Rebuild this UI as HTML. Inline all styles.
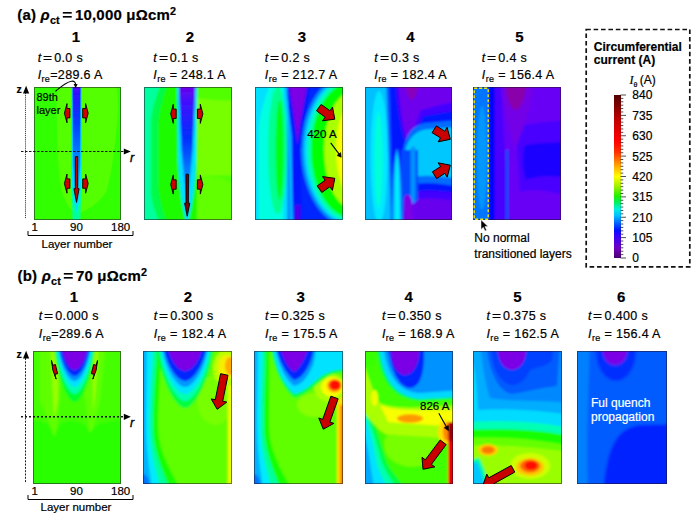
<!DOCTYPE html>
<html><head><meta charset="utf-8"><style>
html,body{margin:0;padding:0;background:#fff;}
body{width:700px;height:521px;position:relative;overflow:hidden;font-family:"Liberation Sans", sans-serif;}
.t{position:absolute;white-space:nowrap;line-height:1;-webkit-text-stroke:0.2px currentColor;}
.c{text-align:center;}
.pl{position:absolute;}
sub{font-size:0.72em;vertical-align:-0.36em;line-height:0;}
.eq{display:inline-block;transform:scaleX(1.25);margin:0 2.5px;}
.sb{vertical-align:-0.4em;}
.eqb{display:inline-block;transform:scaleX(1.15);margin:0 3px;}
sup{font-size:0.72em;vertical-align:0.45em;line-height:0;}
</style></head><body>
<svg class="pl" style="left:34px;top:87px" width="87" height="133" viewBox="34 87 87 133"><defs><filter id="fa1" x="14" y="67" width="127" height="173" filterUnits="userSpaceOnUse"><feGaussianBlur stdDeviation="0.7"/></filter></defs><g filter="url(#fa1)"><rect x="24" y="77" width="107" height="153" fill="#32ff00"/><path d="M57,82 C56,120 58,180 62,192 C66,205 72,212 77,214 C83,212 98,205 106,192 C112,175 116,140 118,110 C118,95 117,90 116,82 Z" fill="#53ff00"/><defs><linearGradient id="ga1" x1="0" y1="0" x2="0" y2="1"><stop offset="0" stop-color="#6000ff"/><stop offset="0.08" stop-color="#3010ff"/><stop offset="0.35" stop-color="#0040ff"/><stop offset="0.55" stop-color="#0070ff"/><stop offset="0.8" stop-color="#00b0ff"/><stop offset="1" stop-color="#00d0ff"/></linearGradient></defs><path d="M71.3,85 L81.8,85 L81.5,185 C81,200 80.5,212 80.5,222 L72.5,222 C72.5,212 72,200 71.6,185 Z" fill="#00ff9d"/><path d="M71.3,85 L81.8,85 L81.5,175 C81,190 79,205 76.6,212 C74,205 72,190 71.6,175 Z" fill="#00e0ff"/><path d="M72.6,85 L80.5,85 L80.2,165 C79.5,180 78,192 76.6,198 C75,192 73.6,180 72.9,165 Z" fill="url(#ga1)"/></g><rect x="34.5" y="87.5" width="86" height="132" fill="none" stroke="#201028" stroke-width="1" stroke-opacity="0.55"/><path d="M67.0,108.5 L67.0,103.6 L64.4,113.2 L67.0,122.8 L67.0,117.9 L69.9,117.9 L69.9,108.5 Z" fill="#d00000" stroke="#000" stroke-width="0.9" stroke-linejoin="miter"/><path d="M85.6,108.5 L85.6,103.6 L88.2,113.2 L85.6,122.8 L85.6,117.9 L82.7,117.9 L82.7,108.5 Z" fill="#d00000" stroke="#000" stroke-width="0.9" stroke-linejoin="miter"/><path d="M67.0,178.9 L67.0,174.0 L64.4,183.6 L67.0,193.2 L67.0,188.3 L69.9,188.3 L69.9,178.9 Z" fill="#d00000" stroke="#000" stroke-width="0.9" stroke-linejoin="miter"/><path d="M85.6,178.9 L85.6,174.0 L88.2,183.6 L85.6,193.2 L85.6,188.3 L82.7,188.3 L82.7,178.9 Z" fill="#d00000" stroke="#000" stroke-width="0.9" stroke-linejoin="miter"/><path d="M75.3,156.6 L77.7,156.6 L77.7,188.7 L79.1,188.7 L76.5,202.5 L73.9,188.7 L75.3,188.7 Z" fill="#c00000" stroke="#000" stroke-width="0.9" stroke-linejoin="miter"/></svg><svg class="pl" style="left:144px;top:87px" width="88" height="133" viewBox="144 87 88 133"><defs><filter id="fa2" x="124" y="67" width="128" height="173" filterUnits="userSpaceOnUse"><feGaussianBlur stdDeviation="0.8"/></filter></defs><g filter="url(#fa2)"><rect x="134" y="77" width="108" height="153" fill="#51ff00"/><path d="M196,98 C210,100 225,101 236,100 L236,176 C225,175 210,175 196,176 Z" fill="#77ff00"/><path d="M196,176 C215,175 228,180 236,186 L236,230 L196,230 Z" fill="#62ff00"/><rect x="134" y="77" width="63" height="153" fill="#1efb00"/><path d="M134,77 L164,77 C158,92 152,105 151,125 L151,190 C152,205 156,214 163,230 L134,230 Z" fill="#00ff9f"/><path d="M151,125 C151,110 157,96 165,77 L170,77 C163,96 158,112 158,130 L158,185 C159,200 163,214 170,230 L163,230 C156,214 152,205 151,190 Z" fill="#00fb48"/><defs><linearGradient id="ga2" x1="0" y1="0" x2="0" y2="1"><stop offset="0" stop-color="#7000e8"/><stop offset="0.15" stop-color="#4010ff"/><stop offset="0.45" stop-color="#0030ff"/><stop offset="0.7" stop-color="#0078ff"/><stop offset="1" stop-color="#00c0ff"/></linearGradient></defs><path d="M177,85 L197,85 L196,160 C195,190 191,210 188,222 L186,222 C183,210 179,190 178,160 Z" fill="#00e0ff"/><path d="M178.8,85 L195.4,85 L192.5,150 C190.5,175 188.5,195 187,205 C185.5,195 183.5,175 181.5,150 Z" fill="url(#ga2)"/></g><rect x="144.5" y="87.5" width="87" height="132" fill="none" stroke="#201028" stroke-width="1" stroke-opacity="0.55"/><path d="M173.3,109.1 L173.3,104.2 L170.7,113.8 L173.3,123.4 L173.3,118.5 L176.2,118.5 L176.2,109.1 Z" fill="#d00000" stroke="#000" stroke-width="0.9" stroke-linejoin="miter"/><path d="M200.3,109.1 L200.3,104.2 L202.9,113.8 L200.3,123.4 L200.3,118.5 L197.4,118.5 L197.4,109.1 Z" fill="#d00000" stroke="#000" stroke-width="0.9" stroke-linejoin="miter"/><path d="M173.3,179.8 L173.3,174.9 L170.7,184.5 L173.3,194.1 L173.3,189.2 L176.2,189.2 L176.2,179.8 Z" fill="#d00000" stroke="#000" stroke-width="0.9" stroke-linejoin="miter"/><path d="M200.3,179.8 L200.3,174.9 L202.9,184.5 L200.3,194.1 L200.3,189.2 L197.4,189.2 L197.4,179.8 Z" fill="#d00000" stroke="#000" stroke-width="0.9" stroke-linejoin="miter"/><path d="M186.0,174.2 L188.4,174.2 L188.4,203.2 L189.8,203.2 L187.2,216.3 L184.6,203.2 L186.0,203.2 Z" fill="#800000" stroke="#000" stroke-width="0.9" stroke-linejoin="miter"/></svg><svg class="pl" style="left:255px;top:87px" width="88" height="133" viewBox="255 87 88 133"><defs><filter id="fa3" x="235" y="67" width="128" height="173" filterUnits="userSpaceOnUse"><feGaussianBlur stdDeviation="1.3"/></filter></defs><g filter="url(#fa3)"><rect x="245" y="77" width="108" height="153" fill="#00ffe0"/><path d="M245,77 L273,77 C266,95 260,110 258.5,130 L258.5,230 L245,230 Z" fill="#00e0ff"/><rect x="283" y="77" width="12" height="153" fill="#00e0ff"/><rect x="287" y="77" width="8" height="153" fill="#0090ff"/><ellipse cx="277.5" cy="150" rx="9.5" ry="64" fill="#00ff90"/><ellipse cx="279.5" cy="150" rx="4" ry="50" fill="#00ff12"/><rect x="292" y="77" width="70" height="153" fill="#0027ff"/><ellipse cx="352" cy="150" rx="51" ry="78" fill="#0089ff"/><ellipse cx="352" cy="150" rx="48" ry="75" fill="#00d8ff"/><ellipse cx="352" cy="150" rx="45" ry="72" fill="#00ffb1"/><ellipse cx="352" cy="150" rx="41" ry="68" fill="#00ff00"/><ellipse cx="352" cy="150" rx="28" ry="58" fill="#aaff00"/><ellipse cx="352" cy="150" rx="16" ry="46" fill="#f7ff00"/><path d="M285,82 L311,82 C306,110 302,130 301,150 L301.5,225 L293.5,225 L293.5,150 C292,130 288,110 285,82 Z" fill="#0014ff"/><path d="M288,82 L308,82 C304,105 300,120 297.5,145 C295,120 292,105 288,82 Z" fill="#7b00e6"/><path d="M283.5,82 L286.5,82 C289,120 292,150 293,225 L291,225 C290,150 288,120 283.5,82 Z" fill="#00c4ff"/><rect x="295" y="205" width="5.5" height="20" fill="#4900ee"/></g><rect x="255.5" y="87.5" width="87" height="132" fill="none" stroke="#201028" stroke-width="1" stroke-opacity="0.55"/><path d="M316.5,110.8 L325.2,117.2 L322.5,120.8 L334.8,119.2 L332.5,107.0 L329.9,110.7 L321.1,104.4 Z" fill="#c80000" stroke="#000" stroke-width="1" stroke-linejoin="miter"/><path d="M321.8,192.5 L329.8,186.8 L332.4,190.4 L334.8,178.3 L322.5,176.6 L325.1,180.3 L317.2,185.9 Z" fill="#c80000" stroke="#000" stroke-width="1" stroke-linejoin="miter"/><path d="M330.7,142.8 L339.5,154.6" stroke="#000" stroke-width="1.1" fill="none"/><path d="M337,155.5 L341.2,157.2 L340.6,152.6 Z" fill="#000" stroke="#000" stroke-width="0.6"/></svg><svg class="pl" style="left:365px;top:87px" width="87" height="133" viewBox="365 87 87 133"><defs><filter id="fa4" x="345" y="67" width="127" height="173" filterUnits="userSpaceOnUse"><feGaussianBlur stdDeviation="1.2"/></filter></defs><g filter="url(#fa4)"><rect x="355" y="77" width="107" height="153" fill="#6e00ee"/><path d="M388,77 L398,77 C400,110 404,135 409,148 C413,135 416,120 421,110 L460,100 L460,230 L388,230 Z" fill="#4200ff"/><path d="M388,77 L395,77 C397,110 402,138 409,152 C414,140 418,125 424,116 L460,110 L460,230 L388,230 Z" fill="#0014ff"/><path d="M402,156 C405,134 412,126 425,123 L460,120 L460,187 C440,183 420,181 408,186 Z" fill="#006dff"/><path d="M405,152 C408,138 415,132 425,129.5 L460,127 L460,179 C440,176 420,174 411,178 Z" fill="#00c8ff"/><path d="M398,196 C420,188 440,190 460,194 L460,230 L398,230 Z" fill="#4200ff"/><path d="M398,203 C420,196 440,198 460,202 L460,230 L398,230 Z" fill="#6700ee"/><path d="M404,78 C406,95 410,100 412,100 C416,98 418,90 420,78 Z" fill="#8800bb"/><path d="M401,150 L418,150 L418,200 C414,205 410,200 408,195 L404,230 L398,230 Z" fill="#0049ff"/><path d="M410.5,150 C411,145 415,145 415.5,150 L415.5,200 C414,205 411,205 410.5,200 Z" fill="#0092ff"/><path d="M404,198 C406,192 410,194 412,200 L414,230 L403,230 Z" fill="#7b00e6"/><path d="M355,77 L389,77 C391,130 392,180 393,230 L355,230 Z" fill="#005bff"/><path d="M355,77 L386,77 C388,130 390,180 391,230 L355,230 Z" fill="#00c0ff"/><ellipse cx="379" cy="157" rx="8.5" ry="66" fill="#00e8ff"/><ellipse cx="378.5" cy="160" rx="4" ry="48" fill="#00ffd8"/><path d="M392,230 C392,190 393,160 397,148 C400,160 402,190 402,230 Z" fill="#00a4ff"/><path d="M394.5,230 C394.5,190 395,165 397.2,152 C399,165 399.8,190 399.8,230 Z" fill="#00edff"/></g><rect x="365.5" y="87.5" width="86" height="132" fill="none" stroke="#201028" stroke-width="1" stroke-opacity="0.55"/><path d="M432.1,132.7 L440.5,137.9 L438.2,141.8 L450.3,139.3 L447.1,127.3 L444.8,131.2 L436.3,125.9 Z" fill="#c80000" stroke="#000" stroke-width="1" stroke-linejoin="miter"/><path d="M436.6,178.6 L444.8,173.4 L447.2,177.2 L450.3,165.2 L438.1,162.8 L440.6,166.6 L432.4,171.8 Z" fill="#c80000" stroke="#000" stroke-width="1" stroke-linejoin="miter"/></svg><svg class="pl" style="left:473px;top:87px" width="88" height="133" viewBox="473 87 88 133"><defs><filter id="fa5" x="453" y="67" width="128" height="173" filterUnits="userSpaceOnUse"><feGaussianBlur stdDeviation="1.0"/></filter></defs><g filter="url(#fa5)"><rect x="463" y="77" width="108" height="153" fill="#6700f6"/><path d="M515,128 C525,124 540,122 570,120 L570,196 C545,190 530,188 520,192 Z" fill="#4900ff"/><path d="M524,146 C530,143 545,143 570,142 L570,178 C550,175 535,176 526,180 C522,170 522,155 524,146 Z" fill="#1c00ff"/><path d="M500,78 L535,78 C532,110 522,130 515,150 C510,130 503,110 500,78 Z" fill="#7300e6"/><path d="M505.5,78 L526.5,78 C526.5,96 521,109 515.5,110 C510,109 505.5,96 505.5,78 Z" fill="#8a00aa"/><path d="M494,77 L501,77 C503,130 506,170 510,230 L494,230 Z" fill="#4900ff"/><rect x="488" y="77" width="6.5" height="153" fill="#0000ff"/><rect x="463" y="77" width="25.5" height="153" fill="#0076ff"/><ellipse cx="482" cy="158" rx="5" ry="52" fill="#0097ff"/><rect x="505.7" y="150" width="2.8" height="75" fill="#0049ff"/></g><rect x="473.5" y="87.5" width="87" height="132" fill="none" stroke="#201028" stroke-width="1" stroke-opacity="0.55"/><rect x="474.2" y="88.2" width="14" height="131" fill="none" stroke="#f8e800" stroke-width="1.4" stroke-dasharray="3,2"/></svg><svg class="pl" style="left:33px;top:351px" width="88" height="133" viewBox="33 351 88 133"><defs><filter id="fb1" x="13" y="331" width="128" height="173" filterUnits="userSpaceOnUse"><feGaussianBlur stdDeviation="1.2"/></filter></defs><g filter="url(#fb1)"><rect x="23" y="341" width="108" height="153" fill="#2cff00"/><path d="M23,341 L131,341 L131,418 C120,420 105,422 98,424 L90,433 L84,424 C75,420 65,420 60,424 L54.5,437 L48,424 C40,420 30,420 23,420 Z" fill="#45ff00"/><path d="M40,341 L65,341 L58,420 C56,430 55,436 54.5,437 C53,430 48,420 40,400 Z" fill="#60ff00"/><path d="M84,341 L106,341 L100,400 C96,420 92,430 90,433 C89,425 86,410 84,390 Z" fill="#60ff00"/><path d="M50,341 L58,341 L58,400 C56,410 55,416 54,418 Z" fill="#99ff00"/><path d="M92,341 L99,341 C97,380 95,400 93,410 Z" fill="#99ff00"/><path d="M53.5,341 C55.18,373.9 67.15,402 74.5,402 C81.85,402 93.82,373.9 95.5,341 Z" fill="#00ff2a"/><path d="M55.0,341 C56.56,370.4 67.67,394 74.5,394 C81.33,394 92.44,370.4 94.0,341 Z" fill="#00ffb1"/><path d="M56.5,341 C57.94,367.2 68.20,387 74.5,387 C80.80,387 91.06,367.2 92.5,341 Z" fill="#00e2ff"/><path d="M57.7,341 C59.04,364.5 68.62,381 74.5,381 C80.38,381 89.96,364.5 91.3,341 Z" fill="#008eff"/><path d="M59.0,341 C60.24,362.2 69.08,376 74.5,376 C79.92,376 88.76,362.2 90.0,341 Z" fill="#0027ff"/><path d="M61.0,341 C62.08,359.6 69.78,370 74.5,370 C79.22,370 86.92,359.6 88.0,341 Z" fill="#7b00e6"/></g><rect x="33.5" y="351.5" width="87" height="132" fill="none" stroke="#201028" stroke-width="1" stroke-opacity="0.55"/><path d="M53.8,365.1 L53.8,360.2 L52.8,369.8 L53.8,379.4 L53.8,374.5 L56.6,374.5 L56.6,365.1 Z" fill="#d00000" stroke="#000" stroke-width="0.9" stroke-linejoin="miter" transform="rotate(-14 53.8 369.8)"/><path d="M95.2,365.1 L95.2,360.2 L96.2,369.8 L95.2,379.4 L95.2,374.5 L92.4,374.5 L92.4,365.1 Z" fill="#d00000" stroke="#000" stroke-width="0.9" stroke-linejoin="miter" transform="rotate(14 95.2 369.8)"/></svg><svg class="pl" style="left:143px;top:351px" width="89" height="133" viewBox="143 351 89 133"><defs><filter id="fb2" x="123" y="331" width="129" height="173" filterUnits="userSpaceOnUse"><feGaussianBlur stdDeviation="1.2"/></filter></defs><g filter="url(#fb2)"><rect x="133" y="341" width="109" height="153" fill="#5eff00"/><ellipse cx="215" cy="400" rx="18" ry="25" fill="#77ff00"/><path d="M133,341 L161.7,341 C160.22,376 158,396 158,426 C158,451 170.5,471 183,494 L133,494 Z" fill="#15ff00"/><path d="M133,341 L157.45,341 C155.67,376 153,396 153,426 C153,451 162.5,471 172,494 L133,494 Z" fill="#00ff9d"/><path d="M133,341 L153.2,341 C151.72,376 149.5,396 149.5,426 C149.5,451 155.75,471 162,494 L133,494 Z" fill="#00ebff"/><path d="M133,341 L147,341 C146.6,376 146,396 146,426 C146,451 149.5,471 153,494 L133,494 Z" fill="#00b1ff"/><ellipse cx="143" cy="484" rx="6" ry="10" fill="#0076ff"/><rect x="227.5" y="385" width="10" height="105" fill="#e5ff00"/><ellipse cx="226" cy="368" rx="13" ry="18" fill="#bbff00"/><ellipse cx="227" cy="367" rx="9" ry="12" fill="#f6ee00"/><ellipse cx="230" cy="366" rx="5" ry="9" fill="#ffaa00"/><path d="M156,341 C158.32,376.6 174.85,408 185,408 C195.15,408 211.68,376.6 214,341 Z" fill="#00ff40"/><path d="M158,341 C160.16,373.5 175.55,401 185,401 C194.45,401 209.84,373.5 212,341 Z" fill="#00ffb1"/><path d="M159.5,341 C161.54,370.4 176.07,394 185,394 C193.93,394 208.46,370.4 210.5,341 Z" fill="#00e2ff"/><path d="M161.5,341 C163.38,367.2 176.78,387 185,387 C193.22,387 206.62,367.2 208.5,341 Z" fill="#0097ff"/><path d="M163,341 C164.76,364.5 177.30,381 185,381 C192.70,381 205.24,364.5 207,341 Z" fill="#0027ff"/><path d="M167,341 C168.44,360.0 178.70,371 185,371 C191.30,371 201.56,360.0 203,341 Z" fill="#7b00e6"/></g><rect x="143.5" y="351.5" width="88" height="132" fill="none" stroke="#201028" stroke-width="1" stroke-opacity="0.55"/><path d="M220.6,373.7 L215.3,399.7 L211.2,398.9 L217.2,409.3 L226.8,402.1 L222.7,401.2 L228.0,375.3 Z" fill="#c80000" stroke="#000" stroke-width="1" stroke-linejoin="miter"/></svg><svg class="pl" style="left:254px;top:351px" width="89" height="133" viewBox="254 351 89 133"><defs><filter id="fb3" x="234" y="331" width="129" height="173" filterUnits="userSpaceOnUse"><feGaussianBlur stdDeviation="1.2"/></filter></defs><g filter="url(#fb3)"><rect x="244" y="341" width="109" height="153" fill="#5eff00"/><ellipse cx="315" cy="405" rx="18" ry="12" fill="#88ff00"/><path d="M244,341 L269.4,341 C269.24,376 269,396 269,426 C269,451 281.5,471 294,494 L244,494 Z" fill="#15ff00"/><path d="M244,341 L265.9,341 C265.14,376 264,396 264,426 C264,451 273.5,471 283,494 L244,494 Z" fill="#00ff9d"/><path d="M244,341 L262.4,341 C261.64000000000004,376 260.5,396 260.5,426 C260.5,451 266.75,471 273,494 L244,494 Z" fill="#00ebff"/><path d="M244,341 L258,341 C257.59999999999997,376 257,396 257,426 C257,451 260.5,471 264,494 L244,494 Z" fill="#00b1ff"/><ellipse cx="254" cy="484" rx="6" ry="10" fill="#0076ff"/><rect x="337" y="392" width="10" height="100" fill="#ffdd00"/><rect x="340" y="405" width="6" height="85" fill="#ff8800"/><ellipse cx="330" cy="388" rx="16" ry="14" fill="#aaff00"/><ellipse cx="332" cy="387" rx="11" ry="10" fill="#f7ff00"/><path d="M270,341 C272,365 280,385 294,398 C305,396 315,385 325,378 C332,374 338,372 352,372 L352,341 Z" fill="#00ff40"/><path d="M272,341 C274,365 282,383 294,394 C305,392 313,382 323,375 C332,371 338,369 352,369 L352,341 Z" fill="#00e2ff"/><path d="M274,341 C277,362 284,378 294,386 C303,384 308,376 313,365 C315,358 316,350 316,341 Z" fill="#0097ff"/><path d="M275,341 C278,360 286,374 294,380 C302,378 307,370 311,360 C313,354 314,348 314,341 Z" fill="#0027ff"/><path d="M279,341 C281,356 288,368 294,372 C300,368 306,358 310,341 Z" fill="#7b00e6"/><ellipse cx="334" cy="386" rx="9" ry="8" fill="#ffee00"/><ellipse cx="334.5" cy="385.5" rx="7" ry="6.3" fill="#ff8000"/><ellipse cx="335" cy="385" rx="5.5" ry="5" fill="#ff0800"/></g><rect x="254.5" y="351.5" width="88" height="132" fill="none" stroke="#201028" stroke-width="1" stroke-opacity="0.55"/><path d="M330.9,396.2 L322.7,419.4 L318.8,418.0 L323.3,429.2 L333.8,423.4 L329.9,422.0 L338.1,398.8 Z" fill="#c80000" stroke="#000" stroke-width="1" stroke-linejoin="miter"/></svg><svg class="pl" style="left:365px;top:351px" width="88" height="133" viewBox="365 351 88 133"><defs><filter id="fb4" x="345" y="331" width="128" height="173" filterUnits="userSpaceOnUse"><feGaussianBlur stdDeviation="1.3"/></filter></defs><g filter="url(#fb4)"><rect x="355" y="341" width="108" height="153" fill="#40ff00"/><path d="M355,396 C373,409 381,446 387,463 C393,475 401,481 409,494 L355,494 Z" fill="#00ff40"/><path d="M355,401 C371,413 377,446 382,463 C387,475 393,481 399,494 L355,494 Z" fill="#00ffb1"/><path d="M355,405 C369,417 373,446 377,465 C380,475 385,481 389,494 L355,494 Z" fill="#00e2ff"/><path d="M355,413 C366,431 369,456 371,469 L375,494 L355,494 Z" fill="#00a7ff"/><ellipse cx="412" cy="445" rx="28" ry="22" fill="#77ff00"/><path d="M362,360 C370,380 374,395 380,403 C395,410 420,407 460,405 L460,440 C430,436 405,436 385,434 C378,430 370,420 362,410 Z" fill="#aaff00"/><path d="M380,405 C395,412 420,410 460,410 L460,428 C430,424 405,424 388,422 Z" fill="#f7ff00"/><ellipse cx="374.5" cy="398" rx="3.5" ry="8" fill="#eeff00"/><ellipse cx="410" cy="418.5" rx="13" ry="4.2" fill="#ff9900"/><ellipse cx="445" cy="432" rx="7" ry="12" fill="#ffdd00"/><ellipse cx="447" cy="432" rx="4" ry="9" fill="#ff8800"/><rect x="448" y="422" width="10" height="70" fill="#ee0000"/><ellipse cx="451" cy="432" rx="2.5" ry="10" fill="#990000"/><path d="M376,341 C378,380 392,399 420,401 L460,399 L460,341 Z" fill="#00ff40"/><path d="M378.5,341 C381,378 394,397 420,399 L460,397 L460,341 Z" fill="#00d8ff"/><path d="M383,341 C386,375 398,392 420,393 L460,390 L460,341 Z" fill="#0092ff"/><path d="M387,341 C390,372 400,388 410,388 C420,387 423,375 424,360 L424,341 Z" fill="#0027ff"/><ellipse cx="405" cy="351" rx="14" ry="24" fill="#7b00e6"/><path d="M355,341 L377,341 C377,358 376,364 372,366 L355,368 Z" fill="#37ff00"/></g><rect x="365.5" y="351.5" width="87" height="132" fill="none" stroke="#201028" stroke-width="1" stroke-opacity="0.55"/><path d="M440.2,440.0 L425.3,459.8 L422.0,457.3 L423.0,469.3 L434.8,466.9 L431.4,464.4 L446.2,444.6 Z" fill="#c80000" stroke="#000" stroke-width="1" stroke-linejoin="miter"/><path d="M438.8,413.2 L446.8,427.6" stroke="#000" stroke-width="1.1" fill="none"/><path d="M444.3,427.8 L448.6,430.8 L448.3,425.6 Z" fill="#000" stroke="#000" stroke-width="0.6"/></svg><svg class="pl" style="left:473px;top:351px" width="89" height="133" viewBox="473 351 89 133"><defs><filter id="fb5" x="453" y="331" width="129" height="173" filterUnits="userSpaceOnUse"><feGaussianBlur stdDeviation="1.3"/></filter></defs><g filter="url(#fb5)"><rect x="463" y="341" width="109" height="153" fill="#99ff00"/><path d="M463,446 C490,444 520,446 570,452 L570,430 L463,430 Z" fill="#66ff00"/><path d="M463,341 L570,341 L570,446 C540,440 510,436 463,438 Z" fill="#15ff00"/><path d="M463,341 L570,341 L570,436 C540,430 510,428 463,430 Z" fill="#00ffb6"/><path d="M463,341 L570,341 L570,428 C540,422 510,420 463,422 Z" fill="#00dbff"/><path d="M463,341 L570,341 L570,415 C540,410 500,408 478,410 C476,380 476,360 463,341 Z" fill="#00adff"/><path d="M480,341 L570,341 L570,403 C540,400 510,402 490,398 C484,380 482,360 480,341 Z" fill="#0089ff"/><path d="M486,341 L560,341 L557,386 C540,388 525,392 512,394 C498,392 488,370 486,341 Z" fill="#005bff"/><path d="M490,341 C492,370 500,383 512,385 C522,385 528,375 530,370 C540,366 548,366 552,360 L554,341 Z" fill="#0040ff"/><ellipse cx="512" cy="351" rx="14" ry="19" fill="#7b00e6"/><ellipse cx="530" cy="466" rx="20" ry="13" fill="#ccff00"/><ellipse cx="488" cy="450" rx="10" ry="6" fill="#ffcc00"/><ellipse cx="488" cy="450" rx="6.5" ry="3.8" fill="#ff7700"/><ellipse cx="530" cy="467" rx="14" ry="9" fill="#ffc500"/><ellipse cx="530" cy="466" rx="10" ry="6.5" fill="#ff6600"/><ellipse cx="531" cy="465.5" rx="6.5" ry="4.5" fill="#ff1100"/><path d="M463,495 L463,462 C470,460 476,458 479,458 C483,465 487,475 490,495 Z" fill="#00ff9d"/><path d="M463,495 L463,466 C470,464 474,462 477,462 C481,470 484,480 486,495 Z" fill="#00c8ff"/></g><rect x="473.5" y="351.5" width="88" height="132" fill="none" stroke="#201028" stroke-width="1" stroke-opacity="0.55"/><path d="M511.2,465.5 L488.8,477.8 L486.8,474.1 L482.8,485.5 L494.5,488.1 L492.5,484.5 L514.8,472.1 Z" fill="#c80000" stroke="#000" stroke-width="1" stroke-linejoin="miter"/></svg><svg class="pl" style="left:577px;top:351px" width="90" height="133" viewBox="577 351 90 133"><defs><filter id="fb6" x="557" y="331" width="130" height="173" filterUnits="userSpaceOnUse"><feGaussianBlur stdDeviation="1.4"/></filter></defs><g filter="url(#fb6)"><rect x="567" y="341" width="110" height="153" fill="#005bff"/><path d="M567,341 L590,341 C588,400 586,440 588,495 L567,495 Z" fill="#0080ff"/><path d="M603,495 C606,450 615,428 640,425 L680,424 L680,495 Z" fill="#0024ff"/><ellipse cx="616" cy="351" rx="20" ry="30" fill="#002fff"/><ellipse cx="615" cy="351" rx="12" ry="14" fill="#7b00e6"/></g><rect x="577.5" y="351.5" width="89" height="132" fill="none" stroke="#201028" stroke-width="1" stroke-opacity="0.55"/></svg><div class="t" style="left:17.3px;top:6.6px;font-size:15px;font-weight:bold;font-style:normal;color:#000;letter-spacing:0.2px">(a) <i>&rho;</i><sub class="sb">ct</sub><span class="eqb">=</span>10,000 &mu;&Omega;cm<sup>2</sup></div><div class="t" style="left:17.5px;top:267.5px;font-size:15px;font-weight:bold;font-style:normal;color:#000;letter-spacing:0.2px">(b) <i>&rho;</i><sub class="sb">ct</sub><span class="eqb">=</span>70 &mu;&Omega;cm<sup>2</sup></div><div class="t c" style="left:56.0px;top:28.7px;width:40px;font-size:15px;font-weight:bold">1</div><div class="t c" style="left:170.0px;top:28.7px;width:40px;font-size:15px;font-weight:bold">2</div><div class="t c" style="left:281.95000000000005px;top:28.7px;width:40px;font-size:15px;font-weight:bold">3</div><div class="t c" style="left:390.45px;top:28.7px;width:40px;font-size:15px;font-weight:bold">4</div><div class="t c" style="left:499.35px;top:28.7px;width:40px;font-size:15px;font-weight:bold">5</div><div class="t c" style="left:53.900000000000006px;top:288.5px;width:40px;font-size:15px;font-weight:bold">1</div><div class="t c" style="left:167.85px;top:288.5px;width:40px;font-size:15px;font-weight:bold">2</div><div class="t c" style="left:280.65px;top:288.5px;width:40px;font-size:15px;font-weight:bold">3</div><div class="t c" style="left:388.54999999999995px;top:288.5px;width:40px;font-size:15px;font-weight:bold">4</div><div class="t c" style="left:497.45000000000005px;top:288.5px;width:40px;font-size:15px;font-weight:bold">5</div><div class="t c" style="left:601.15px;top:288.5px;width:40px;font-size:15px;font-weight:bold">6</div><div class="t" style="left:37.7px;top:51.5px;font-size:12.5px;font-weight:normal;font-style:normal;color:#000;letter-spacing:0.35px"><i>t</i><span class="eq">=</span>0.0 s</div><div class="t" style="left:37.7px;top:69px;font-size:12.5px;font-weight:normal;font-style:normal;color:#000;letter-spacing:0.35px"><i>I</i><sub>re</sub>=289.6 A</div><div class="t" style="left:153.29999999999998px;top:51.5px;font-size:12.5px;font-weight:normal;font-style:normal;color:#000;letter-spacing:0.35px"><i>t</i><span class="eq">=</span>0.1 s</div><div class="t" style="left:153.29999999999998px;top:69px;font-size:12.5px;font-weight:normal;font-style:normal;color:#000;letter-spacing:0.35px"><i>I</i><sub>re</sub> = 248.1 A</div><div class="t" style="left:264.8px;top:51.5px;font-size:12.5px;font-weight:normal;font-style:normal;color:#000;letter-spacing:0.35px"><i>t</i><span class="eq">=</span>0.2 s</div><div class="t" style="left:264.8px;top:69px;font-size:12.5px;font-weight:normal;font-style:normal;color:#000;letter-spacing:0.35px"><i>I</i><sub>re</sub> = 212.7 A</div><div class="t" style="left:374.3px;top:51.5px;font-size:12.5px;font-weight:normal;font-style:normal;color:#000;letter-spacing:0.35px"><i>t</i><span class="eq">=</span>0.3 s</div><div class="t" style="left:374.3px;top:69px;font-size:12.5px;font-weight:normal;font-style:normal;color:#000;letter-spacing:0.35px"><i>I</i><sub>re</sub> = 182.4 A</div><div class="t" style="left:481.8px;top:51.5px;font-size:12.5px;font-weight:normal;font-style:normal;color:#000;letter-spacing:0.35px"><i>t</i><span class="eq">=</span>0.4 s</div><div class="t" style="left:481.8px;top:69px;font-size:12.5px;font-weight:normal;font-style:normal;color:#000;letter-spacing:0.35px"><i>I</i><sub>re</sub> = 156.4 A</div><div class="t" style="left:38.800000000000004px;top:310.2px;font-size:12.5px;font-weight:normal;font-style:normal;color:#000;letter-spacing:0.35px"><i>t</i><span class="eq">=</span>0.000 s</div><div class="t" style="left:38.800000000000004px;top:327.7px;font-size:12.5px;font-weight:normal;font-style:normal;color:#000;letter-spacing:0.35px"><i>I</i><sub>re</sub>=289.6 A</div><div class="t" style="left:153.7px;top:310.2px;font-size:12.5px;font-weight:normal;font-style:normal;color:#000;letter-spacing:0.35px"><i>t</i><span class="eq">=</span>0.300 s</div><div class="t" style="left:153.7px;top:327.7px;font-size:12.5px;font-weight:normal;font-style:normal;color:#000;letter-spacing:0.35px"><i>I</i><sub>re</sub> = 182.4 A</div><div class="t" style="left:265.09999999999997px;top:310.2px;font-size:12.5px;font-weight:normal;font-style:normal;color:#000;letter-spacing:0.35px"><i>t</i><span class="eq">=</span>0.325 s</div><div class="t" style="left:265.09999999999997px;top:327.7px;font-size:12.5px;font-weight:normal;font-style:normal;color:#000;letter-spacing:0.35px"><i>I</i><sub>re</sub> = 175.5 A</div><div class="t" style="left:381.9px;top:310.2px;font-size:12.5px;font-weight:normal;font-style:normal;color:#000;letter-spacing:0.35px"><i>t</i><span class="eq">=</span>0.350 s</div><div class="t" style="left:381.9px;top:327.7px;font-size:12.5px;font-weight:normal;font-style:normal;color:#000;letter-spacing:0.35px"><i>I</i><sub>re</sub> = 168.9 A</div><div class="t" style="left:486.5px;top:310.2px;font-size:12.5px;font-weight:normal;font-style:normal;color:#000;letter-spacing:0.35px"><i>t</i><span class="eq">=</span>0.375 s</div><div class="t" style="left:486.5px;top:327.7px;font-size:12.5px;font-weight:normal;font-style:normal;color:#000;letter-spacing:0.35px"><i>I</i><sub>re</sub> = 162.5 A</div><div class="t" style="left:588.1px;top:310.2px;font-size:12.5px;font-weight:normal;font-style:normal;color:#000;letter-spacing:0.35px"><i>t</i><span class="eq">=</span>0.400 s</div><div class="t" style="left:588.1px;top:327.7px;font-size:12.5px;font-weight:normal;font-style:normal;color:#000;letter-spacing:0.35px"><i>I</i><sub>re</sub> = 156.4 A</div><div class="t" style="left:31.5px;top:221.5px;font-size:11.5px;font-weight:normal;font-style:normal;color:#000;">1</div><div class="t" style="left:70px;top:221.5px;font-size:11.5px;font-weight:normal;font-style:normal;color:#000;">90</div><div class="t" style="left:111px;top:221.5px;font-size:11.5px;font-weight:normal;font-style:normal;color:#000;">180</div><svg class="pl" style="left:0;top:0px" width="140" height="260"><path d="M28,231 L28,235.5 L133,235.5 L133,231" fill="none" stroke="#000" stroke-width="1"/></svg><div class="t" style="left:41.5px;top:238.7px;font-size:11.5px;font-weight:normal;font-style:normal;color:#000;">Layer number</div><div class="t" style="left:31.5px;top:485.5px;font-size:11.5px;font-weight:normal;font-style:normal;color:#000;">1</div><div class="t" style="left:70px;top:485.5px;font-size:11.5px;font-weight:normal;font-style:normal;color:#000;">90</div><div class="t" style="left:111px;top:485.5px;font-size:11.5px;font-weight:normal;font-style:normal;color:#000;">180</div><svg class="pl" style="left:0;top:264px" width="140" height="260"><path d="M28,231 L28,235.5 L133,235.5 L133,231" fill="none" stroke="#000" stroke-width="1"/></svg><div class="t" style="left:40.5px;top:501.6px;font-size:11.5px;font-weight:normal;font-style:normal;color:#000;">Layer number</div><svg class="pl" style="left:0;top:0" width="140" height="521"><line x1="25.5" y1="93" x2="25.5" y2="219" stroke="#444" stroke-width="1" stroke-dasharray="1.2,0.9"/><path d="M23,93.5 L29.2,93.5 L26.1,85.8 Z" fill="#000"/><line x1="21" y1="151.5" x2="125" y2="151.5" stroke="#000" stroke-width="1.1" stroke-dasharray="2.5,1.5" stroke-opacity="0.9"/><path d="M123.8,148.4 L123.8,154.6 L130.8,151.5 Z" fill="#000"/></svg><div class="t" style="left:16.6px;top:84.4px;font-size:10.5px;font-weight:bold;font-style:normal;color:#000;">z</div><div class="t" style="left:130px;top:152.1px;font-size:12.5px;font-weight:normal;font-style:italic;color:#000;-webkit-text-stroke:0.35px #000">r</div><svg class="pl" style="left:0;top:0" width="140" height="521"><line x1="25.5" y1="358" x2="25.5" y2="483" stroke="#222" stroke-width="1" stroke-dasharray="2,1.3"/><path d="M23,358.5 L29.2,358.5 L26.1,350.8 Z" fill="#000"/><line x1="21" y1="416.8" x2="125" y2="416.8" stroke="#000" stroke-width="1.5" stroke-dasharray="2,2" stroke-opacity="0.9"/><path d="M123.8,413.7 L123.8,419.90000000000003 L130.8,416.8 Z" fill="#000"/></svg><div class="t" style="left:16.6px;top:349.4px;font-size:10.5px;font-weight:bold;font-style:normal;color:#000;">z</div><div class="t" style="left:130px;top:417.40000000000003px;font-size:12.5px;font-weight:normal;font-style:italic;color:#000;-webkit-text-stroke:0.35px #000">r</div><svg class="pl" style="left:0;top:0" width="700" height="521"><rect x="586.2" y="29.5" width="103.6" height="237.4" fill="none" stroke="#111" stroke-width="1.7" stroke-dasharray="4.6,2.8"/></svg><div class="t" style="left:593.8px;top:41px;font-size:12px;font-weight:bold;font-style:normal;color:#000;">Circumferential</div><div class="t" style="left:593.8px;top:54px;font-size:12px;font-weight:bold;font-style:normal;color:#000;">current (A)</div><div class="t" style="left:629.5px;top:73.6px;font-size:12px;font-weight:normal;font-style:normal;color:#000;"><i style="font-family:Liberation Serif">I</i><sub style="font-size:7px">&theta;</sub>&thinsp;(A)</div><div style="position:absolute;left:614px;top:95px;width:7px;height:163px;background:linear-gradient(to top,#4a0070 0%,#7000c0 6%,#3000ff 14%,#0010ff 17%,#0070ff 22%,#00c0ff 26%,#00f0e0 30%,#00f060 34%,#20f000 38%,#a0f000 44%,#ffff00 50%,#ffa000 57%,#ff3000 65%,#ff0000 72%,#c00000 85%,#500000 100%)"></div><svg class="pl" style="left:0;top:0" width="700" height="521"><line x1="620.5" y1="258.00" x2="626.0" y2="258.00" stroke="#222" stroke-width="0.8"/><line x1="620.5" y1="254.60" x2="623.3" y2="254.60" stroke="#222" stroke-width="0.8"/><line x1="620.5" y1="251.21" x2="623.3" y2="251.21" stroke="#222" stroke-width="0.8"/><line x1="620.5" y1="247.81" x2="623.3" y2="247.81" stroke="#222" stroke-width="0.8"/><line x1="620.5" y1="244.42" x2="623.3" y2="244.42" stroke="#222" stroke-width="0.8"/><line x1="620.5" y1="241.02" x2="623.3" y2="241.02" stroke="#222" stroke-width="0.8"/><line x1="620.5" y1="237.62" x2="626.0" y2="237.62" stroke="#222" stroke-width="0.8"/><line x1="620.5" y1="234.23" x2="623.3" y2="234.23" stroke="#222" stroke-width="0.8"/><line x1="620.5" y1="230.83" x2="623.3" y2="230.83" stroke="#222" stroke-width="0.8"/><line x1="620.5" y1="227.44" x2="623.3" y2="227.44" stroke="#222" stroke-width="0.8"/><line x1="620.5" y1="224.04" x2="623.3" y2="224.04" stroke="#222" stroke-width="0.8"/><line x1="620.5" y1="220.65" x2="623.3" y2="220.65" stroke="#222" stroke-width="0.8"/><line x1="620.5" y1="217.25" x2="626.0" y2="217.25" stroke="#222" stroke-width="0.8"/><line x1="620.5" y1="213.85" x2="623.3" y2="213.85" stroke="#222" stroke-width="0.8"/><line x1="620.5" y1="210.46" x2="623.3" y2="210.46" stroke="#222" stroke-width="0.8"/><line x1="620.5" y1="207.06" x2="623.3" y2="207.06" stroke="#222" stroke-width="0.8"/><line x1="620.5" y1="203.67" x2="623.3" y2="203.67" stroke="#222" stroke-width="0.8"/><line x1="620.5" y1="200.27" x2="623.3" y2="200.27" stroke="#222" stroke-width="0.8"/><line x1="620.5" y1="196.88" x2="626.0" y2="196.88" stroke="#222" stroke-width="0.8"/><line x1="620.5" y1="193.48" x2="623.3" y2="193.48" stroke="#222" stroke-width="0.8"/><line x1="620.5" y1="190.08" x2="623.3" y2="190.08" stroke="#222" stroke-width="0.8"/><line x1="620.5" y1="186.69" x2="623.3" y2="186.69" stroke="#222" stroke-width="0.8"/><line x1="620.5" y1="183.29" x2="623.3" y2="183.29" stroke="#222" stroke-width="0.8"/><line x1="620.5" y1="179.90" x2="623.3" y2="179.90" stroke="#222" stroke-width="0.8"/><line x1="620.5" y1="176.50" x2="626.0" y2="176.50" stroke="#222" stroke-width="0.8"/><line x1="620.5" y1="173.10" x2="623.3" y2="173.10" stroke="#222" stroke-width="0.8"/><line x1="620.5" y1="169.71" x2="623.3" y2="169.71" stroke="#222" stroke-width="0.8"/><line x1="620.5" y1="166.31" x2="623.3" y2="166.31" stroke="#222" stroke-width="0.8"/><line x1="620.5" y1="162.92" x2="623.3" y2="162.92" stroke="#222" stroke-width="0.8"/><line x1="620.5" y1="159.52" x2="623.3" y2="159.52" stroke="#222" stroke-width="0.8"/><line x1="620.5" y1="156.12" x2="626.0" y2="156.12" stroke="#222" stroke-width="0.8"/><line x1="620.5" y1="152.73" x2="623.3" y2="152.73" stroke="#222" stroke-width="0.8"/><line x1="620.5" y1="149.33" x2="623.3" y2="149.33" stroke="#222" stroke-width="0.8"/><line x1="620.5" y1="145.94" x2="623.3" y2="145.94" stroke="#222" stroke-width="0.8"/><line x1="620.5" y1="142.54" x2="623.3" y2="142.54" stroke="#222" stroke-width="0.8"/><line x1="620.5" y1="139.15" x2="623.3" y2="139.15" stroke="#222" stroke-width="0.8"/><line x1="620.5" y1="135.75" x2="626.0" y2="135.75" stroke="#222" stroke-width="0.8"/><line x1="620.5" y1="132.35" x2="623.3" y2="132.35" stroke="#222" stroke-width="0.8"/><line x1="620.5" y1="128.96" x2="623.3" y2="128.96" stroke="#222" stroke-width="0.8"/><line x1="620.5" y1="125.56" x2="623.3" y2="125.56" stroke="#222" stroke-width="0.8"/><line x1="620.5" y1="122.17" x2="623.3" y2="122.17" stroke="#222" stroke-width="0.8"/><line x1="620.5" y1="118.77" x2="623.3" y2="118.77" stroke="#222" stroke-width="0.8"/><line x1="620.5" y1="115.38" x2="626.0" y2="115.38" stroke="#222" stroke-width="0.8"/><line x1="620.5" y1="111.98" x2="623.3" y2="111.98" stroke="#222" stroke-width="0.8"/><line x1="620.5" y1="108.58" x2="623.3" y2="108.58" stroke="#222" stroke-width="0.8"/><line x1="620.5" y1="105.19" x2="623.3" y2="105.19" stroke="#222" stroke-width="0.8"/><line x1="620.5" y1="101.79" x2="623.3" y2="101.79" stroke="#222" stroke-width="0.8"/><line x1="620.5" y1="98.40" x2="623.3" y2="98.40" stroke="#222" stroke-width="0.8"/><line x1="620.5" y1="95.00" x2="626.0" y2="95.00" stroke="#222" stroke-width="0.8"/></svg><div class="t" style="left:632.3px;top:89.4px;font-size:12px;font-weight:normal;font-style:normal;color:#000;">840</div><div class="t" style="left:632.3px;top:109.775px;font-size:12px;font-weight:normal;font-style:normal;color:#000;">735</div><div class="t" style="left:632.3px;top:130.15px;font-size:12px;font-weight:normal;font-style:normal;color:#000;">630</div><div class="t" style="left:632.3px;top:150.525px;font-size:12px;font-weight:normal;font-style:normal;color:#000;">525</div><div class="t" style="left:632.3px;top:170.9px;font-size:12px;font-weight:normal;font-style:normal;color:#000;">420</div><div class="t" style="left:632.3px;top:191.275px;font-size:12px;font-weight:normal;font-style:normal;color:#000;">315</div><div class="t" style="left:632.3px;top:211.65px;font-size:12px;font-weight:normal;font-style:normal;color:#000;">210</div><div class="t" style="left:632.3px;top:232.025px;font-size:12px;font-weight:normal;font-style:normal;color:#000;">105</div><div class="t" style="left:632.3px;top:252.4px;font-size:12px;font-weight:normal;font-style:normal;color:#000;">0</div><svg class="pl" style="left:0;top:0;overflow:visible" width="700" height="521"><path d="M55.4,91.3 C61,86.5 66,82 71.5,81.2 C74.5,80.8 75.8,82.5 75.6,85" fill="none" stroke="#000" stroke-width="1.1"/><path d="M73.6,84 L77.6,84 L75.7,88.3 Z" fill="#000"/><path d="M481,219.8 L481,229.5 L483.3,227.3 L485,231 L486.6,230.3 L484.9,226.6 L488.1,226.6 Z" fill="#000" stroke="#fff" stroke-width="0.5"/></svg><div class="t" style="left:36.5px;top:92.2px;font-size:11px;font-weight:normal;font-style:normal;color:#000;">89th</div><div class="t" style="left:36.5px;top:105px;font-size:11px;font-weight:normal;font-style:normal;color:#000;">layer</div><div class="t" style="left:307.2px;top:129.4px;font-size:11.5px;font-weight:normal;font-style:normal;color:#000;">420 A</div><div class="t" style="left:420px;top:401px;font-size:11.5px;font-weight:normal;font-style:normal;color:#000;">826 A</div><div class="t" style="left:474.3px;top:232px;font-size:12px;font-weight:normal;font-style:normal;color:#000;">No normal</div><div class="t" style="left:474.3px;top:247.7px;font-size:12px;font-weight:normal;font-style:normal;color:#000;">transitioned layers</div><div class="t" style="left:591px;top:397px;font-size:12px;font-weight:normal;font-style:normal;color:#fff;">Ful quench</div><div class="t" style="left:591px;top:411px;font-size:12px;font-weight:normal;font-style:normal;color:#fff;">propagation</div>
</body></html>
